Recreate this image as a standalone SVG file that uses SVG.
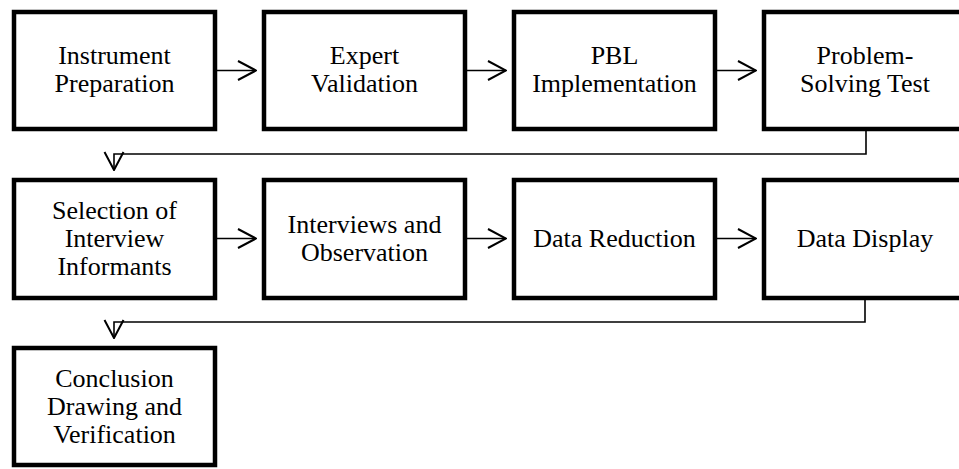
<svg xmlns="http://www.w3.org/2000/svg" width="959" height="469" viewBox="0 0 959 469">
  <style>
    .box { fill: #ffffff; stroke: #000000; stroke-width: 4.5; }
    .lbl { font-family: "Liberation Serif", "Times New Roman", serif; font-size: 26px; fill: #000000; text-anchor: middle; }
    .conn { fill: none; stroke: #000000; stroke-width: 1.6; }
  </style>
  <defs>
    <marker id="arrow" markerUnits="userSpaceOnUse" viewBox="0 0 20 22" refX="19" refY="11" markerWidth="20" markerHeight="22" orient="auto">
      <path d="M1,1.5 L19,11 L1,20.5" fill="none" stroke="#000000" stroke-width="2"/>
    </marker>
  </defs>

  <!-- row 1 -->
  <g id="instrument-preparation">
    <rect class="box" x="14" y="12" width="201" height="117"/>
    <text class="lbl" x="114.5" y="63.5">Instrument</text>
    <text class="lbl" x="114.5" y="91.5">Preparation</text>
  </g>
  <g id="expert-validation">
    <rect class="box" x="264" y="12" width="201" height="117"/>
    <text class="lbl" x="364.5" y="63.5">Expert</text>
    <text class="lbl" x="364.5" y="91.5">Validation</text>
  </g>
  <g id="pbl-implementation">
    <rect class="box" x="514" y="12" width="201" height="117"/>
    <text class="lbl" x="614.5" y="63.5">PBL</text>
    <text class="lbl" x="614.5" y="91.5">Implementation</text>
  </g>
  <g id="problem-solving-test">
    <rect class="box" x="764" y="12" width="201" height="117"/>
    <text class="lbl" x="865" y="63.5">Problem-</text>
    <text class="lbl" x="865" y="91.5">Solving Test</text>
  </g>

  <!-- row 2 -->
  <g id="selection-of-informants">
    <rect class="box" x="14" y="180" width="201" height="118"/>
    <text class="lbl" x="114.5" y="219">Selection of</text>
    <text class="lbl" x="114.5" y="247">Interview</text>
    <text class="lbl" x="114.5" y="275">Informants</text>
  </g>
  <g id="interviews-observation">
    <rect class="box" x="264" y="180" width="201" height="118"/>
    <text class="lbl" x="364.5" y="233">Interviews and</text>
    <text class="lbl" x="364.5" y="261">Observation</text>
  </g>
  <g id="data-reduction">
    <rect class="box" x="514" y="180" width="201" height="118"/>
    <text class="lbl" x="614.5" y="247">Data Reduction</text>
  </g>
  <g id="data-display">
    <rect class="box" x="764" y="180" width="201" height="118"/>
    <text class="lbl" x="865" y="247">Data Display</text>
  </g>

  <!-- row 3 -->
  <g id="conclusion-drawing">
    <rect class="box" x="14" y="348" width="201" height="117"/>
    <text class="lbl" x="114.5" y="386.5">Conclusion</text>
    <text class="lbl" x="114.5" y="414.5">Drawing and</text>
    <text class="lbl" x="114.5" y="442.5">Verification</text>
  </g>

  <!-- connectors -->
  <g id="connectors">
    <path class="conn" d="M217,70.5 H256" marker-end="url(#arrow)"/>
    <path class="conn" d="M467,70.5 H506" marker-end="url(#arrow)"/>
    <path class="conn" d="M717,70.5 H756" marker-end="url(#arrow)"/>
    <path class="conn" d="M866,131 V154 H114 V170" marker-end="url(#arrow)"/>
    <path class="conn" d="M217,238.5 H256" marker-end="url(#arrow)"/>
    <path class="conn" d="M467,238.5 H506" marker-end="url(#arrow)"/>
    <path class="conn" d="M717,238.5 H756" marker-end="url(#arrow)"/>
    <path class="conn" d="M865,300 V322 H114 V338" marker-end="url(#arrow)"/>
  </g>
</svg>
